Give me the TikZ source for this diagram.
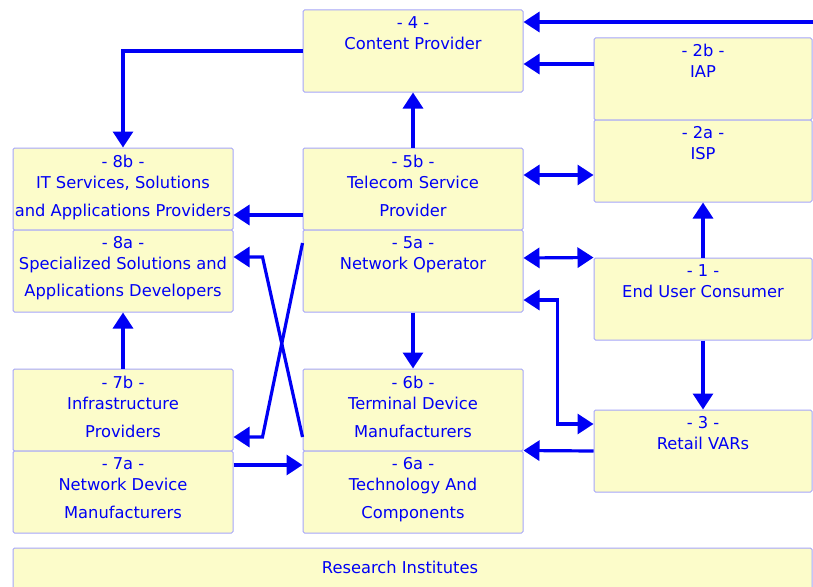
\documentclass[tikz,border=0pt]{standalone}
\usepackage{fontspec}
\setmainfont{DejaVu Sans}
\usepackage{xcolor}
\usetikzlibrary{calc,arrows.meta}

\definecolor{boxfill}{RGB}{252,252,202}
\definecolor{boxline}{RGB}{165,165,250}
\definecolor{flowblue}{RGB}{0,0,245}

\begin{document}
\begin{tikzpicture}[x=1pt,y=-1pt]
        \tikzstyle{box}=[draw=boxline,fill=boxfill,line width=1pt,rounded corners=1.5pt,minimum width=220pt,minimum height=82pt,inner sep=0pt]
        \tikzstyle{lbl}=[anchor=north,align=center,inner sep=0pt,text=flowblue,font=\fontsize{16.3}{21}\selectfont]
        \tikzstyle{flow}=[draw=flowblue,line width=3.2pt,-{Triangle[length=16pt,width=20pt]}]
        \tikzstyle{both}=[flow,{Triangle[length=16pt,width=20pt]}-{Triangle[length=16pt,width=20pt]}]
            \clip (0,0) rectangle (813,586);

            \node[box] (n4) at (413,51) {};
            \node[box] (n5b) at ($(n4)+(0,138)$) {};
            \node[box] (n5a) at ($(n5b)+(0,82)$) {};
            \node[box] (n6b) at ($(n5a)+(0,139)$) {};
            \node[box] (n6a) at ($(n6b)+(0,82)$) {};

            \node[box] (n8b) at ($(n5b)+(-290,0)$) {};
            \node[box] (n8a) at ($(n8b)+(0,82)$) {};
            \node[box] (n7b) at ($(n6b)+(-290,0)$) {};
            \node[box] (n7a) at ($(n7b)+(0,82)$) {};

            \node[box,minimum width=218pt] (n2b) at (703,79) {};
            \node[box,minimum width=218pt] (n2a) at ($(n2b)+(0,82)$) {};
            \node[box,minimum width=218pt] (n1) at ($(n2a)+(0,138)$) {};
            \node[box,minimum width=218pt] (n3) at ($(n1)+(0,152)$) {};

            \node[box,minimum width=799pt,minimum height=60pt] (nri) at (412.5,578) {};

            \node[lbl] (t4) at ($(n4.north)+(0,7)$) {- 4 -\\Content Provider};
            \node[lbl] (t2b) at ($(n2b.north)+(0,6)$) {- 2b -\\IAP};
            \node[lbl] (t2a) at ($(n2a.north)+(0,7)$) {- 2a -\\ISP};
            \node[lbl] (t8b) at ($(n8b.north)+(0,7)$) {- 8b -\\IT Services, Solutions\\[7pt]and Applications Providers};
            \node[lbl] (t8a) at ($(n8a.north)+(0,7)$) {- 8a -\\Specialized Solutions and\\[6pt]Applications Developers};
            \node[lbl] (t5b) at ($(n5b.north)+(0,7)$) {- 5b -\\Telecom Service\\[7pt]Provider};
            \node[lbl] (t5a) at ($(n5a.north)+(0,7)$) {- 5a -\\Network Operator};
            \node[lbl] (t1) at ($(n1.north)+(0,7)$) {- 1 -\\End User Consumer};
            \node[lbl] (t7b) at ($(n7b.north)+(0,7)$) {- 7b -\\Infrastructure\\[7pt]Providers};
            \node[lbl] (t7a) at ($(n7a.north)+(0,7)$) {- 7a -\\Network Device\\[7pt]Manufacturers};
            \node[lbl] (t6b) at ($(n6b.north)+(0,7)$) {- 6b -\\Terminal Device\\[7pt]Manufacturers};
            \node[lbl] (t6a) at ($(n6a.north)+(0,7)$) {- 6a -\\Technology And\\[7pt]Components};
            \node[lbl] (t3) at ($(n3.north)+(0,7)$) {- 3 -\\Retail VARs};
            \node[lbl] (tri) at (400,561) {Research Institutes};

            \coordinate (rim) at (813,22);
            \draw[flow] (rim) -- (rim -| n4.east);
            \draw[flow] ($(n2b.west)+(0,-15)$) -- ($(n4.east)+(0,13)$);
            \draw[flow] (n4.west) -| (n8b.north);
            \draw[flow] (n5b.north) -- (n4.south);
            \draw[both] ($(n5b.east)+(0,-14)$) -- ($(n2a.west)+(0,14)$);
            \draw[flow] ($(n5b.west)+(0,26)$) -- ($(n8b.east)+(0,26)$);
            \draw[both] ($(n5a.east)+(0,-13)$) -- (n1.north west);
            \draw[flow] (n1.north) -- (n2a.south);
            \draw[flow] (n1.south) -- (n3.north);
            \draw[both] ($(n5a.east)+(0,29)$) -| ($(n3.west)+(-36,-27)$) -- ($(n3.west)+(0,-27)$);
            \draw[flow] (n3.west) -- (n6a.north east);
            \draw[flow] (n5a.south) -- (n6b.north);
            \draw[flow] ($(n5a.west)+(0,-28)$) -- ($(n7b.east)+(29,27)$) -- ($(n7b.east)+(0,27)$);
            \draw[flow] ($(n6b.west)+(0,27)$) -- ($(n8a.east)+(29,-14)$) -- ($(n8a.east)+(0,-14)$);
            \draw[flow] (n7b.north) -- (n8a.south);
            \draw[flow] ($(n7a.east)+(0,-27)$) -- ($(n6a.west)+(0,-27)$);

        \end{tikzpicture}
\end{document}
